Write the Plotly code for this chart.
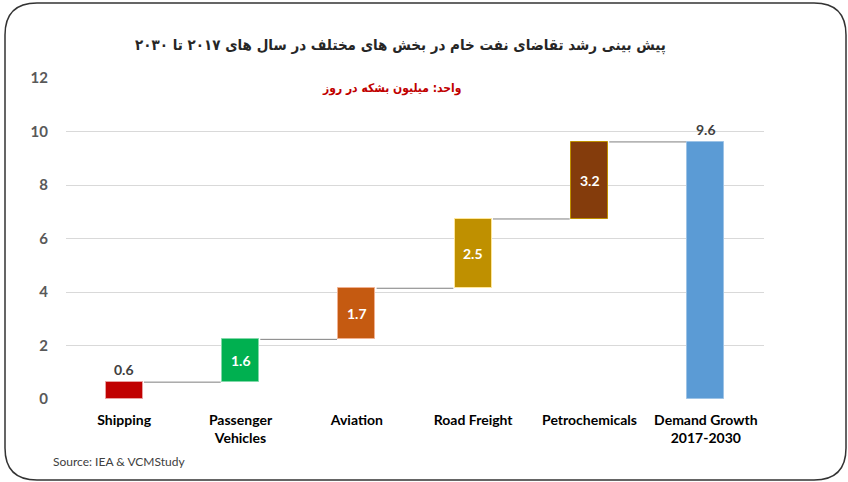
import plotly.graph_objects as go

# ---- data ----
categories = ["Shipping", "Passenger<br>Vehicles", "Aviation", "Road Freight",
              "Petrochemicals", "Demand Growth<br>2017-2030"]
step_values = [0.63, 1.60, 1.91, 2.59, 2.88]          # bar heights
label_values = ["0.6", "1.6", "1.7", "2.5", "3.2", "9.6"]  # labels as printed
y_ticks = [0, 2, 4, 6, 8, 10, 12]

title_text = "پیش بینی رشد تقاضای نفت خام در بخش های مختلف در سال های ۲۰۱۷ تا ۲۰۳۰"
unit_text = "واحد: میلیون بشکه در روز"
source_text = "Source: IEA & VCMStudy"

# ---- styles ----
bar_colors = ["#C00000", "#00B050", "#C55A11", "#BF9000", "#843C0C", "#5B9BD5"]
edge_colors = ["#E8A0A0", "#80D8A8", "#F0B090", "#FFE699", "#BF9000", "#9DC3E6"]
W, H = 848, 482
L, R, T, B = 66, 848 - 764, 78, 482 - 399

# ---- waterfall geometry from data ----
bases, tops = [], []
run = 0.0
for v in step_values:
    bases.append(run)
    run += v
    tops.append(run)
total = run
bases.append(0.0)
heights = step_values + [total]
tops.append(total)

xs = list(range(len(categories)))
bar_w = 0.32

fig = go.Figure()
fig.add_trace(go.Bar(
    x=xs, y=heights, base=bases, width=bar_w,
    marker=dict(color=bar_colors, line=dict(color=edge_colors, width=1)),
    hoverinfo="skip", showlegend=False,
))

# connectors
for i in range(len(step_values)):
    fig.add_trace(go.Scatter(
        x=[xs[i] + bar_w / 2 + 0.01, xs[i + 1] - bar_w / 2 - 0.01],
        y=[tops[i], tops[i]], mode="lines",
        line=dict(color="#7F7F7F", width=1), hoverinfo="skip", showlegend=False,
    ))

# labels
lab_font = dict(family="Lato, Open Sans, sans-serif", size=14, weight="bold")
for i, lab in enumerate(label_values):
    if i == 0 or i == len(label_values) - 1:
        fig.add_annotation(x=xs[i], y=tops[i], text=lab, showarrow=False,
                           yanchor="bottom", yshift=2,
                           font=dict(lab_font, color="#404040"))
    else:
        fig.add_annotation(x=xs[i], y=bases[i] + heights[i] / 2, text=lab,
                           showarrow=False, font=dict(lab_font, color="white"))

def px(x):
    return (x - L) / (W - L - R)

def py(y):
    return (H - B - y) / (H - T - B)

# rounded border
x0, x1, y0, y1, r = 5, 846, 3, 480, 32
path = (f"M {px(x0 + r)} {py(y0)} L {px(x1 - r)} {py(y0)} "
        f"Q {px(x1)} {py(y0)} {px(x1)} {py(y0 + r)} "
        f"L {px(x1)} {py(y1 - r)} Q {px(x1)} {py(y1)} {px(x1 - r)} {py(y1)} "
        f"L {px(x0 + r)} {py(y1)} Q {px(x0)} {py(y1)} {px(x0)} {py(y1 - r)} "
        f"L {px(x0)} {py(y0 + r)} Q {px(x0)} {py(y0)} {px(x0 + r)} {py(y0)} Z")
fig.add_shape(type="path", path=path, xref="paper", yref="paper",
              line=dict(color="#333333", width=1.5), layer="above")

fig.add_annotation(xref="paper", yref="paper", x=px(400), y=py(45),
                   xanchor="center", yanchor="middle",
                   text=title_text, showarrow=False,
                   font=dict(family="DejaVu Sans Condensed, DejaVu Sans", size=15,
                             color="#262626", weight="bold"))
fig.add_annotation(xref="paper", yref="paper", x=px(391), y=py(88),
                   xanchor="center", yanchor="middle",
                   text=unit_text, showarrow=False,
                   font=dict(family="DejaVu Sans Condensed, DejaVu Sans", size=12,
                             color="#C00000", weight="bold"))
fig.add_annotation(xref="paper", yref="paper", x=px(51), y=py(461),
                   xanchor="left", yanchor="middle",
                   text=source_text, showarrow=False,
                   font=dict(family="Lato, sans-serif", size=12, color="#404040"))

fig.update_layout(
    width=W, height=H, margin=dict(l=L, r=R, t=T, b=B),
    paper_bgcolor="white", plot_bgcolor="white",
    bargap=0,
    xaxis=dict(tickmode="array", tickvals=xs, ticktext=categories,
               range=[-0.5, len(categories) - 0.5], showgrid=False, zeroline=False,
               showline=False, ticks="outside", ticklen=8, tickcolor="rgba(0,0,0,0)",
               tickfont=dict(family="Lato, sans-serif", size=14, color="#000000",
                             weight="bold")),
    yaxis=dict(range=[0, 12], tickvals=y_ticks, showgrid=True, gridcolor="#D9D9D9",
               gridwidth=1, zeroline=False, showline=False,
               ticks="outside", ticklen=14, tickcolor="rgba(0,0,0,0)",
               tickfont=dict(family="Lato, sans-serif", size=15, color="#595959",
                             weight="bold")),
)

fig.write_html("out.html", config={"displayModeBar": False},
               post_script="document.body.style.margin='0';document.body.style.overflow='hidden';")
